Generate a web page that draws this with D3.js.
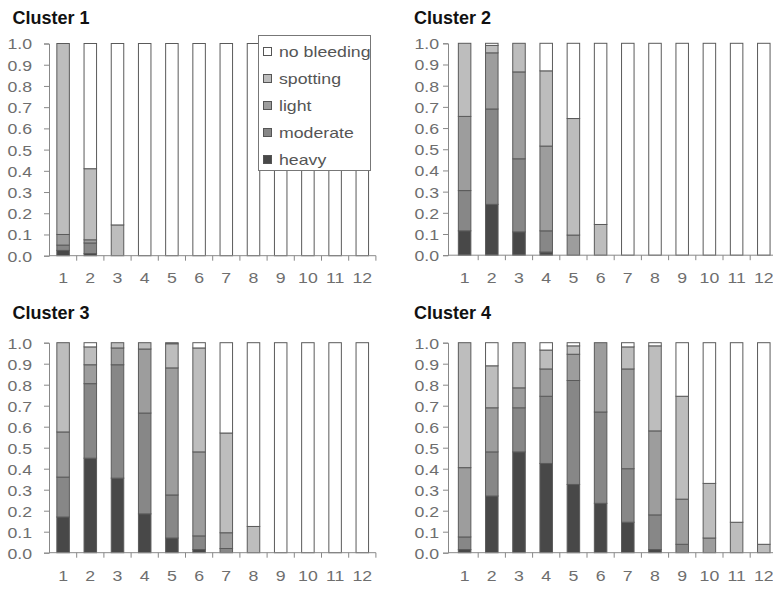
<!DOCTYPE html>
<html><head><meta charset="utf-8">
<script src="https://cdn.jsdelivr.net/npm/d3@7"></script>
<style>body{margin:0;background:#fff}svg{display:block}</style>
</head><body>
<svg id="c" width="773" height="589"></svg>
<script>
// ---------- DATA ----------
const categories = ["1","2","3","4","5","6","7","8","9","10","11","12"];
const clusters = ["Cluster 1","Cluster 2","Cluster 3","Cluster 4"];
const seriesNames = ["heavy","moderate","light","spotting","no bleeding"];
const yTicks = [0,0.1,0.2,0.3,0.4,0.5,0.6,0.7,0.8,0.9,1.0];
// one row per cluster, one value per category
const heavy = [
  [0.025,0.01,0,0,0,0,0,0,0,0,0,0],
  [0.115,0.24,0.11,0.015,0,0,0,0,0,0,0,0],
  [0.17,0.45,0.355,0.185,0.07,0.015,0,0,0,0,0,0],
  [0.015,0.27,0.48,0.425,0.325,0.235,0.145,0.015,0,0,0,0]
];
const moderate = [
  [0.025,0.05,0,0,0,0,0,0,0,0,0,0],
  [0.19,0.45,0.345,0.10,0,0,0,0,0,0,0,0],
  [0.19,0.355,0.54,0.48,0.205,0.065,0.02,0,0,0,0,0],
  [0.06,0.21,0.21,0.32,0.495,0.435,0.255,0.165,0.04,0,0,0]
];
const light = [
  [0.05,0.015,0,0,0,0,0,0,0,0,0,0],
  [0.35,0.265,0.41,0.40,0.095,0,0,0,0,0,0,0],
  [0.215,0.09,0.08,0.305,0.605,0.40,0.075,0,0,0,0,0],
  [0.33,0.21,0.095,0.13,0.125,0.33,0.475,0.40,0.215,0.07,0,0]
];
const spotting = [
  [0.90,0.335,0.145,0,0,0,0,0,0,0,0,0],
  [0.345,0.035,0.135,0.355,0.55,0.145,0,0,0,0,0,0],
  [0.425,0.085,0.025,0.03,0.115,0.495,0.475,0.125,0,0,0,0],
  [0.595,0.20,0.215,0.09,0.04,0,0.105,0.405,0.49,0.26,0.145,0.04]
];
const noBleeding = [
  [0,0.59,0.855,1,1,1,1,1,1,1,1,1],
  [0,0.01,0,0.13,0.355,0.855,1,1,1,1,1,1],
  [0,0.02,0,0,0.005,0.025,0.43,0.875,1,1,1,1],
  [0,0.11,0,0.035,0.015,0,0.02,0.015,0.255,0.67,0.855,0.96]
];
const seriesColors = ["#484848","#878787","#9d9d9d","#bdbdbd","#ffffff"];

// ---------- LAYOUT ----------
const panels = [
  {tx:12.5, ty:24,  yAxisX:49,  xStart:49.5, y0:255.7, y1:43.5, lblRight:32,  xLblY:283, legend:true},
  {tx:414,  ty:23.5,yAxisX:448, xStart:451,  y0:255.2, y1:43.3, lblRight:439, xLblY:283},
  {tx:12.5, ty:319, yAxisX:49,  xStart:49.5, y0:552.7, y1:342.7,lblRight:32,  xLblY:581},
  {tx:414,  ty:318.5,yAxisX:448,xStart:451,  y0:552.7, y1:342.7,lblRight:439, xLblY:581}
];
const step = 27.2;
const FONT = "Arial, 'Liberation Sans', sans-serif";
const svg = d3.select("#c");

function stretch(sel, f){
  sel.each(function(){
    const w = this.getComputedTextLength();
    if (w>0) d3.select(this).attr("textLength", w*f).attr("lengthAdjust","spacingAndGlyphs");
  });
}

const allSeries = [heavy, moderate, light, spotting, noBleeding];

clusters.forEach((name, ci) => {
  const p = panels[ci];
  const g = svg.append("g");
  const rows = categories.map((c, i) => {
    const r = {cat:c};
    seriesNames.forEach((s, si) => r[s] = allSeries[si][ci][i]);
    return r;
  });
  const stack = d3.stack().keys(seriesNames)(rows);
  const x = d3.scaleBand().domain(categories)
      .range([p.xStart, p.xStart + step*categories.length])
      .paddingInner(0.54).paddingOuter(0.27);
  const y = d3.scaleLinear().domain([0,1]).range([p.y0, p.y1]);

  // title
  g.append("text").attr("x", p.tx).attr("y", p.ty)
    .attr("font-family", FONT).attr("font-weight","bold").attr("font-size", 18)
    .attr("fill","#111").text(name);

  // bars
  stack.forEach((layer, li) => {
    g.append("g").selectAll("rect")
      .data(layer.filter(d => d[1]-d[0] > 0.0001))
      .join("rect")
      .attr("x", d => x(d.data.cat))
      .attr("width", x.bandwidth())
      .attr("y", d => y(d[1]))
      .attr("height", d => y(d[0]) - y(d[1]))
      .attr("fill", seriesColors[li])
      .attr("stroke", "#5a5a5a").attr("stroke-width", 1);
  });

  // y axis
  const ya = g.append("g").attr("transform", `translate(${p.yAxisX},0)`)
    .call(d3.axisLeft(y).tickValues(yTicks).tickFormat(d3.format(".1f")).tickSize(5).tickPadding(0));
  ya.select(".domain").attr("stroke","#888");
  ya.selectAll(".tick line").attr("stroke","#888");
  ya.selectAll(".tick text")
    .attr("x", p.lblRight - p.yAxisX)
    .attr("font-family", FONT).attr("font-size", 15).attr("fill","#6e6e6e")
    .attr("dy","0.36em")
    .call(stretch, 1.18);

  // x axis line + boundary ticks
  const xEnd = p.xStart + step*categories.length;
  g.append("line").attr("x1", p.yAxisX).attr("x2", xEnd)
    .attr("y1", p.y0).attr("y2", p.y0).attr("stroke","#888");
  g.append("g").selectAll("line")
    .data(d3.range(1, categories.length+1))
    .join("line")
    .attr("x1", k => p.xStart + k*step).attr("x2", k => p.xStart + k*step)
    .attr("y1", p.y0).attr("y2", p.y0 + 5).attr("stroke","#888");
  g.append("g").selectAll("text")
    .data(categories).join("text")
    .attr("x", d => x(d) + x.bandwidth()/2).attr("y", p.xLblY)
    .attr("text-anchor","middle")
    .attr("font-family", FONT).attr("font-size", 15).attr("fill","#6e6e6e")
    .text(d => d)
    .call(stretch, 1.18);

  // legend
  if (p.legend) {
    const lg = g.append("g");
    lg.append("rect").attr("x", 258.5).attr("y", 35.5).attr("width", 112).attr("height", 135)
      .attr("fill","#fff").attr("stroke","#777");
    const order = seriesNames.slice().reverse();
    order.forEach((s, i) => {
      const cy = 52 + i*27;
      lg.append("rect").attr("x", 263.5).attr("y", cy-4.5).attr("width", 8).attr("height", 8)
        .attr("fill", seriesColors[seriesNames.indexOf(s)]).attr("stroke","#555");
      lg.append("text").attr("x", 279).attr("y", cy).attr("dy","0.36em")
        .attr("font-family", FONT).attr("font-size", 15).attr("fill","#555")
        .text(s).call(stretch, 1.18);
    });
  }
});
</script>
</body></html>
